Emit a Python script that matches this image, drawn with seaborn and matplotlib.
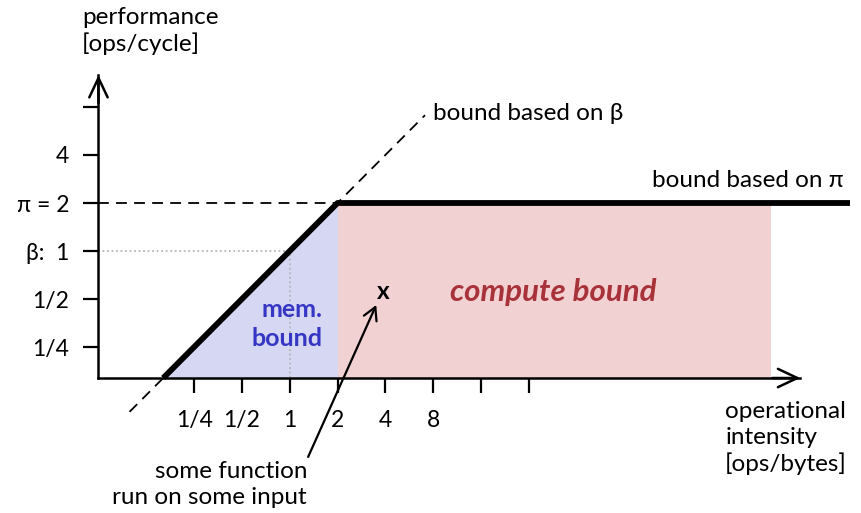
import numpy as np
import pandas as pd
import matplotlib
matplotlib.use("Agg")
import matplotlib.pyplot as plt
import seaborn as sns

# roofline parameters
beta = 1.0     # memory bandwidth [bytes/cycle]
pi = 2.0       # peak performance [ops/cycle]

x_ticks = [1/4, 1/2, 1, 2, 4, 8, 16, 32]
x_tick_labels = ["1/4", "1/2", "1", "2", "4", "8", "", ""]
y_ticks = [1/4, 1/2, 1, 2, 4, 8]
y_tick_labels = ["1/4", "1/2", "β:  1", "π = 2", "4", ""]

# the example function (operational intensity, performance)
func_point = (3.87, 0.56)

# axis extents (log2 units)
x_lo, x_hi = 2**-4, 2**10.68
y_lo, y_hi = 2**-2.646, 2**3.667
roof_end = 2**11.72
compute_end = 2**10.07
dash_lo, dash_hi = 2**-3.35, 2**2.83

sns.set_theme(style="white")
plt.rcParams["font.family"] = ["Lato", "DejaVu Sans"]
plt.rcParams["text.color"] = "black"

FS = 17.5

fig = plt.figure(figsize=(8.61, 5.13), dpi=100)
ax = fig.add_axes([0, 0, 1, 1])
ax.set_xscale("log", base=2)
ax.set_yscale("log", base=2)
ax.set_xlim(2**-6.06, 2**11.95)
ax.set_ylim(2**-5.458, 2**5.229)
ax.patch.set_alpha(0)

ridge = pi / beta
# shaded regions
ax.fill_between([y_lo / beta, ridge], [y_lo, pi], [y_lo, y_lo], color="#d6d8f3", lw=0, zorder=1)
ax.fill_between([ridge, compute_end], [pi, pi], [y_lo, y_lo], color="#f2d1d3", lw=0, zorder=1)

# helper lines
ax.plot([x_lo, ridge], [pi, pi], color="black", lw=1.3, dashes=(6, 4), zorder=2)
ax.plot([dash_lo, dash_hi], [dash_lo * beta, dash_hi * beta], color="black", lw=1.3,
        dashes=(6, 4), zorder=2)
ax.plot([x_lo, 1], [beta, beta], color="#b5b5b5", lw=1.3, ls=(0, (1, 1.5)), zorder=2)
ax.plot([1, 1], [y_lo, beta], color="#b5b5b5", lw=1.3, ls=(0, (1, 1.5)), zorder=2)

# the roof
roof = pd.DataFrame({"x": [y_lo / beta, ridge, roof_end]})
roof["y"] = np.minimum(roof["x"] * beta, pi)
sns.lineplot(data=roof, x="x", y="y", color="black", lw=4.2, ax=ax, zorder=4,
             solid_capstyle="butt")
ax.lines[-1].set_clip_on(False)
ax.set_xlabel("")
ax.set_ylabel("")

# axes as spines + open arrowheads
for s in ["top", "right"]:
    ax.spines[s].set_visible(False)
ax.spines["left"].set_position(("data", x_lo))
ax.spines["bottom"].set_position(("data", y_lo))
ax.spines["left"].set_bounds(y_lo, y_hi)
ax.spines["bottom"].set_bounds(x_lo, x_hi)
for s in ["left", "bottom"]:
    ax.spines[s].set_linewidth(1.8)
    ax.spines[s].set_color("black")
    ax.spines[s].set_zorder(5)
head = "->,head_length=0.7,head_width=0.33"
ax.annotate("", xy=(x_hi, y_lo), xytext=(x_hi / 1.5, y_lo),
            arrowprops=dict(arrowstyle=head, lw=1.8, color="black",
                            shrinkA=0, shrinkB=0, mutation_scale=20))
ax.annotate("", xy=(x_lo, y_hi), xytext=(x_lo, y_hi / 1.5),
            arrowprops=dict(arrowstyle=head, lw=1.8, color="black",
                            shrinkA=0, shrinkB=0, mutation_scale=20))

ax.set_xticks(x_ticks, x_tick_labels)
ax.set_yticks(y_ticks, y_tick_labels)
ax.minorticks_off()
ax.tick_params(axis="both", which="major", direction="out", length=11, width=1.6,
               color="black", labelsize=16.5, labelcolor="black")
ax.tick_params(axis="x", bottom=True, pad=12)
ax.tick_params(axis="y", left=True, pad=10)
ax.grid(False)

# annotations
ax.text(2**-4.34, 2**4.58, "performance\n[ops/cycle]", fontsize=FS, ha="left", va="center",
        linespacing=1.2)
ax.text(2**9.11, 2**-3.9, "operational\nintensity\n[ops/bytes]", fontsize=FS, ha="left",
        va="center", linespacing=1.25)
ax.text(2**3.0, 2**2.86, "bound based on β", fontsize=FS, ha="left", va="center")
ax.text(2**11.58, 2**1.46, "bound based on π", fontsize=FS, ha="right", va="center")
ax.text(2**0.678, 2**-1.52, "mem.\nbound", fontsize=18, fontweight="bold", color="#3636c4",
        ha="right", va="center", multialignment="right", linespacing=1.3)
ax.text(2**5.51, 2**-0.86, "compute bound", fontsize=22.5, fontweight="bold", style="italic",
        color="#a8323a", ha="center", va="center")
ax.text(func_point[0], func_point[1], "x", fontsize=FS, fontweight="bold", ha="center",
        va="center")
ax.annotate("", xy=(2**1.81, 2**-1.125), xytext=(2**0.385, 2**-4.29),
            arrowprops=dict(arrowstyle="->,head_length=0.45,head_width=0.25", lw=1.6,
                            color="black", shrinkA=0, shrinkB=0, mutation_scale=20))
ax.text(2**0.364, 2**-4.86, "some function\nrun on some input", fontsize=FS, ha="right",
        va="center", multialignment="right", linespacing=1.32)

fig.savefig("out.png", dpi=100)
